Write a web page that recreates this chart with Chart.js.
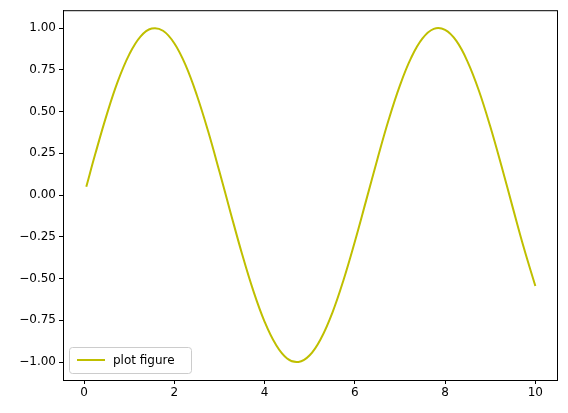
<!DOCTYPE html>
<html>
<head>
<meta charset="utf-8">
<script src="https://cdn.jsdelivr.net/npm/chart.js@4"></script>
<style>
  body { margin: 0; background: #fff; }
  #wrap { width: 568px; height: 413px; }
</style>
</head>
<body>
<div id="wrap"><canvas id="c"></canvas></div>
<script>
// values
const xValues = [0.05, 0.25, 0.5, 0.75, 1.0, 1.25, 1.5, 1.75, 2.0, 2.25, 2.5, 2.75, 3.0, 3.25, 3.5, 3.75,
  4.0, 4.25, 4.5, 4.75, 5.0, 5.25, 5.5, 5.75, 6.0, 6.25, 6.5, 6.75, 7.0, 7.25, 7.5, 7.75,
  8.0, 8.25, 8.5, 8.75, 9.0, 9.25, 9.5, 9.75, 10.0];
const yValues = [0.05, 0.247, 0.479, 0.682, 0.841, 0.949, 0.997, 0.984, 0.909, 0.778, 0.598, 0.382, 0.141,
  -0.108, -0.351, -0.572, -0.757, -0.895, -0.978, -0.999, -0.959, -0.859, -0.706, -0.508, -0.279, -0.033,
  0.215, 0.451, 0.657, 0.823, 0.938, 0.995, 0.989, 0.923, 0.798, 0.625, 0.412, 0.174, -0.075, -0.320, -0.544];
const seriesLabel = 'plot figure';
const xTicks = [0, 2, 4, 6, 8, 10];
const yTicks = [-1, -0.75, -0.5, -0.25, 0, 0.25, 0.5, 0.75, 1];

const lineColor = '#bfbf00';
const font = { family: 'DejaVu Sans', size: 12 };

const frame = {
  id: 'frame',
  afterDraw(chart) {
    const { ctx, chartArea: a } = chart;
    ctx.save();
    ctx.strokeStyle = '#000';
    ctx.lineWidth = 1;
    ctx.strokeRect(a.left + 0.5, a.top + 0.5, a.right - a.left, a.bottom - a.top);
    // legend box, lower left
    const bx = a.left + 6, by = a.bottom - 33, bw = 122, bh = 26;
    ctx.fillStyle = 'rgba(255,255,255,0.8)';
    ctx.strokeStyle = '#cccccc';
    ctx.beginPath();
    ctx.roundRect(bx + 0.5, by + 0.5, bw, bh, 3);
    ctx.fill();
    ctx.stroke();
    ctx.strokeStyle = lineColor;
    ctx.lineWidth = 2;
    ctx.beginPath();
    ctx.moveTo(bx + 8, by + bh / 2);
    ctx.lineTo(bx + 36, by + bh / 2);
    ctx.stroke();
    ctx.fillStyle = '#000';
    ctx.font = '12px "DejaVu Sans"';
    ctx.textBaseline = 'middle';
    ctx.fillText(seriesLabel, bx + 44, by + bh / 2 + 1);
    ctx.restore();
  }
};

new Chart(document.getElementById('c'), {
  type: 'line',
  data: {
    datasets: [{
      label: seriesLabel,
      data: xValues.map((x, i) => ({ x: x, y: yValues[i] })),
      borderColor: lineColor,
      borderWidth: 2,
      pointRadius: 0,
      tension: 0.4,
      fill: false
    }]
  },
  options: {
    responsive: true,
    maintainAspectRatio: false,
    animation: false,
    layout: { padding: { left: 0, top: 8, right: 11, bottom: 0 } },
    plugins: { legend: { display: false }, tooltip: { enabled: false } },
    scales: {
      x: {
        type: 'linear',
        min: -0.466,
        max: 10.48,
        afterBuildTicks: s => { s.ticks = xTicks.map(v => ({ value: v })); },
        afterFit: s => { s.height = 33; },
        grid: { drawOnChartArea: false, tickLength: 4, color: '#000' },
        border: { color: '#000' },
        ticks: { color: '#000', font: font, padding: 2, maxRotation: 0 }
      },
      y: {
        min: -1.107,
        max: 1.107,
        afterBuildTicks: s => { s.ticks = yTicks.map(v => ({ value: v })); },
        afterFit: s => { s.width = 63; },
        grid: { drawOnChartArea: false, tickLength: 4, color: '#000' },
        border: { color: '#000' },
        ticks: { color: '#000', font: font, padding: 3, callback: v => v.toFixed(2).replace('-', '\u2212') }
      }
    }
  },
  plugins: [frame]
});
</script>
</body>
</html>
